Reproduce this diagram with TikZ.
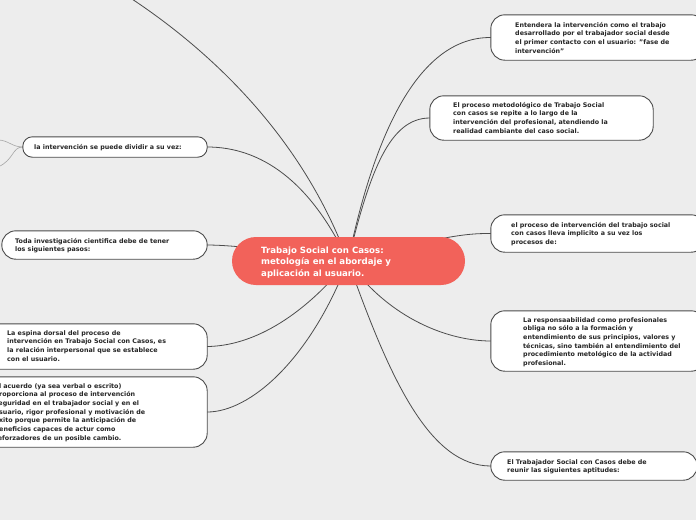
\documentclass[tikz,border=0pt]{standalone}
\usepackage{fontspec}
\setmainfont{DejaVu Sans}
\begin{document}
\begin{tikzpicture}[x=1pt,y=-1pt,
  box/.style={draw=black!70,line width=0.9pt,fill=white,rounded corners=14pt,inner sep=0pt},
  txt/.style={anchor=north west,inner sep=0pt,align=left,font=\bfseries\fontsize{6.35}{8.7}\selectfont,text=black!85},
  conn/.style={draw=black!70,line width=0.8pt},
  sub/.style={draw=black!35,line width=0.6pt}]
\fill[black!7] (0,0) rectangle (696,520);
\useasboundingbox (0,0) rectangle (696,520);
\clip (0,0) rectangle (696,520);
\coordinate (c) at (348,261);
\coordinate (tl) at (110,-15);
\coordinate (s1) at (-2,140);
\coordinate (s2) at (-2,167);
\path (598,37.5) node[minimum width=214,minimum height=45] (b1) {};
\path (541.5,118) node[minimum width=223,minimum height=44] (b2) {};
\path (598,233.5) node[minimum width=214,minimum height=37] (b3) {};
\path (598,341) node[minimum width=214,minimum height=60] (b4) {};
\path (594,466) node[minimum width=206,minimum height=28] (b5) {};
\path (115,147) node[minimum width=184,minimum height=20] (b6) {};
\path (104.5,245) node[minimum width=205,minimum height=28] (b7) {};
\path (93.5,346.5) node[minimum width=227,minimum height=45] (b8) {};
\path (93.5,412) node[minimum width=227,minimum height=70] (b9) {};
% connectors
\draw[conn] (c) .. controls (375,130) and (420,37) .. (b1.west);
\draw[conn] (c) .. controls (370,170) and (390,118) .. (b2.west);
\draw[conn] (c) .. controls (430,240) and (460,233) .. (b3.west);
\draw[conn] (c) .. controls (390,320) and (450,341) .. (b4.west);
\draw[conn] (c) .. controls (390,380) and (430,466) .. (b5.west);
\draw[conn] (c) .. controls (310,180) and (260,147) .. (b6.east);
\draw[conn] (c) .. controls (300,130) and (200,40) .. (tl);
\draw[conn] (c) .. controls (280,250) and (230,245) .. (b7.east);
\draw[conn] (c) .. controls (300,320) and (250,346) .. (b8.east);
\draw[conn] (c) .. controls (310,360) and (250,412) .. (b9.east);
\draw[sub] (b6.west) .. controls (12,147) and (8,140) .. (s1);
\draw[sub] (b6.west) .. controls (12,147) and (14,160) .. (s2);
% boxes
\foreach \b in {b1,b2,b3,b4,b5,b7,b8,b9}{
  \draw[box] (\b.south west) rectangle (\b.north east);
}
\draw[box,rounded corners=9.5pt] (b6.south west) rectangle (b6.north east);
% central
\node[fill={rgb,255:red,242;green,98;blue,90},rounded corners=24pt,minimum width=233,minimum height=48,inner sep=0pt] (ctr) at (348.5,261) {};
\node[anchor=north west,inner sep=0pt,align=left,text=white,font=\bfseries\fontsize{8.6}{11.7}\selectfont] (ct) at (261,246.5) {Trabajo Social con Casos:\\metología en el abordaje y\\aplicación al usuario.};
% texts
\node[txt] (t1) at (515,22) {Entendera la intervención como el trabajo\\desarrollado por el trabajador social desde\\el primer contacto con el usuario: "fase de\\intervención"};
\node[txt] (t2) at (453,102) {El proceso metodológico de Trabajo Social\\con casos se repite a lo largo de la\\intervención del profesional, atendiendo la\\realidad cambiante del caso social.};
\node[txt] (t3) at (511,222) {el proceso de intervención del trabajo social\\con casos lleva implicito a su vez los\\procesos de:};
\node[txt] (t4) at (523,317) {La responsaabilidad como profesionales\\obliga no sólo a la formación y\\entendimiento de sus principios, valores y\\técnicas, sino también al entendimiento del\\procedimiento metológico de la actividad\\profesional.};
\node[txt] (t5) at (507,459) {El Trabajador Social con Casos debe de\\reunir las siguientes aptitudes:};
\node[txt] (t6) at (34,144) {la intervención se puede dividir a su vez:};
\node[txt] (t7) at (15,238) {Toda investigación cientifica debe de tener\\los siguientes pasos:};
\node[txt] (t8) at (7,330) {La espina dorsal del proceso de\\intervención en Trabajo Social con Casos, es\\la relación interpersonal que se establece\\con el usuario.};
\node[txt] (t9) at (-5.5,383) {El acuerdo (ya sea verbal o escrito)\\proporciona al proceso de intervención\\seguridad en el trabajador social y en el\\usuario, rigor profesional y motivación de\\éxito porque permite la anticipación de\\beneficios capaces de actur como\\reforzadores de un posible cambio.};
\end{tikzpicture}
\end{document}
